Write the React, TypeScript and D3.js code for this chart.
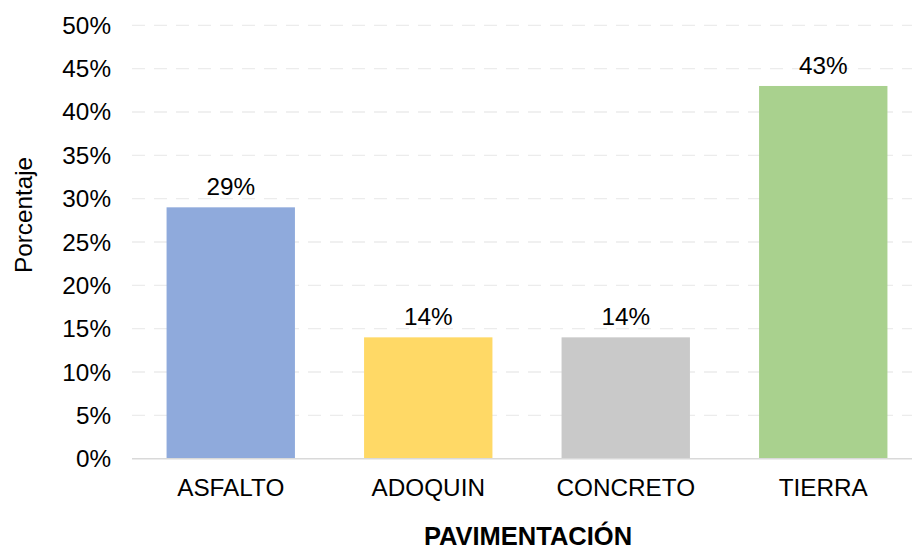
import React from "react";
import * as d3 from "d3";

const categories = ["ASFALTO", "ADOQUIN", "CONCRETO", "TIERRA"];
const values = [0.29, 0.14, 0.14, 0.43];
const colors = ["#8FAADC", "#FFD966", "#C9C9C9", "#A9D18E"];
const yTicks = [0, 0.05, 0.1, 0.15, 0.2, 0.25, 0.3, 0.35, 0.4, 0.45, 0.5];
const yTitle = "Porcentaje";
const xTitle = "PAVIMENTACIÓN";

const W = 912;
const H = 549;
const left = 132;
const right = 922;
const top = 25.3;
const bottom = 458.7;
const font = "'Liberation Sans', Arial, sans-serif";
const fs = 24.3;

export default function App() {
  const x = d3
    .scaleBand<string>()
    .domain(categories)
    .range([left, right])
    .paddingInner(0.35)
    .paddingOuter(0.175);
  const y = d3.scaleLinear().domain([0, 0.5]).range([bottom, top]);
  const fmt = d3.format(".0%");

  return (
    <div style={{ position: "fixed", left: 0, top: 0, width: W, height: H, background: "#fff" }}>
      <svg width={W} height={H} style={{ display: "block" }} fontFamily={font}>
        <rect x={0} y={0} width={W} height={H} fill="#fff" />
        {yTicks.map((t) =>
          t === 0 ? null : (
            <line
              key={"g" + t}
              x1={left}
              x2={W}
              y1={y(t)}
              y2={y(t)}
              stroke="#ececec"
              strokeWidth={1.3}
              strokeDasharray="13,9"
            />
          )
        )}
        {yTicks.map((t) => (
          <text
            key={"t" + t}
            x={111}
            y={y(t)}
            dy="0.35em"
            textAnchor="end"
            fontSize={fs}
            fill="#000"
          >
            {fmt(t)}
          </text>
        ))}
        {categories.map((c, i) => (
          <rect
            key={"b" + c}
            x={x(c)}
            y={y(values[i])}
            width={x.bandwidth()}
            height={bottom - y(values[i])}
            fill={colors[i]}
          />
        ))}
        <line x1={left} x2={W} y1={bottom} y2={bottom} stroke="#d9d9d9" strokeWidth={1.5} />
        {categories.map((c, i) => (
          <text
            key={"v" + c}
            x={(x(c) as number) + x.bandwidth() / 2}
            y={y(values[i]) - 12}
            textAnchor="middle"
            fontSize={fs}
            fill="#000"
          >
            {fmt(values[i])}
          </text>
        ))}
        {categories.map((c) => (
          <text
            key={"c" + c}
            x={(x(c) as number) + x.bandwidth() / 2}
            y={496}
            textAnchor="middle"
            fontSize={fs}
            fill="#000"
          >
            {c}
          </text>
        ))}
        <text
          transform={`translate(32,215) rotate(-90)`}
          textAnchor="middle"
          fontSize={fs}
          fill="#000"
        >
          {yTitle}
        </text>
        <text x={528} y={545} textAnchor="middle" fontSize={25.5} fontWeight="bold" fill="#000">
          {xTitle}
        </text>
      </svg>
    </div>
  );
}
